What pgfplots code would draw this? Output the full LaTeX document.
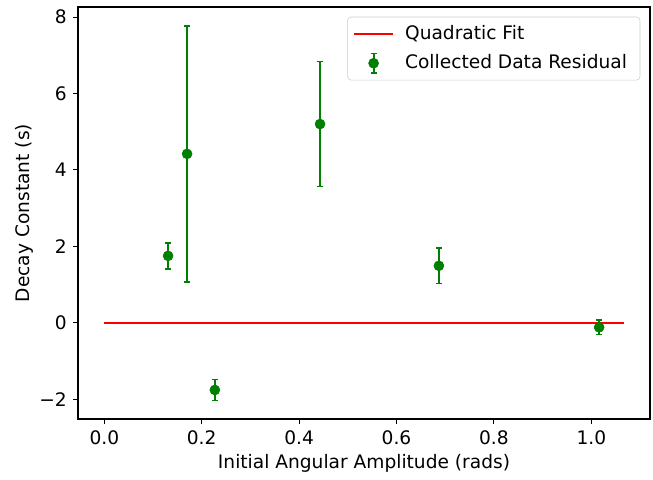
\documentclass[border=0pt]{standalone}
\usepackage{fontspec}
\setmainfont{DejaVu Sans}
\usepackage{pgfplots}
\pgfplotsset{compat=1.18}
\definecolor{mplgreen}{HTML}{008000}
\definecolor{mplred}{HTML}{FF0000}
\begin{document}
\fontsize{13.4}{16}\selectfont
\begin{tikzpicture}
\useasboundingbox (-56.16pt,-43.2pt) rectangle (414pt,301.68pt);
\begin{axis}[
  at={(0pt,0pt)}, anchor=south west,
  scale only axis, width=411.84pt, height=296.64pt,
  xmin=-0.054, xmax=1.1205, ymin=-2.52, ymax=8.264,
  axis line style={line width=0.75pt},
  tick align=outside, major tick length=3.4pt,
  tick style={black, line width=0.75pt},
  xtick={0,0.2,0.4,0.6,0.8,1.0},
  xticklabels={0.0,0.2,0.4,0.6,0.8,1.0},
  ytick={-2,0,2,4,6,8},
  yticklabels={−2,0,2,4,6,8},
  xtick pos=bottom, ytick pos=left,
  tick label style={font=\fontsize{13.4}{16}\selectfont},
  label style={font=\fontsize{13.4}{16}\selectfont},
  xlabel={Initial Angular Amplitude (rads)},
  ylabel={Decay Constant (s)},
  xlabel style={yshift=2pt},
  ylabel style={yshift=-5pt},
  legend style={at={(1,1)}, anchor=north east, xshift=-7pt, yshift=-7pt,
    draw=black!20, rounded corners=2.5pt, fill=white,
    font=\fontsize{13.4}{16}\selectfont,
    inner xsep=4pt, inner ysep=4pt, row sep=5pt,
    nodes={inner sep=2pt},
    /tikz/every odd column/.append style={column sep=6pt}},
  legend cell align=left,
]
\addplot[mplred, line width=1.4pt,
  legend image code/.code={
    \draw[mplred,line width=1.4pt] (0pt,0pt) -- (28pt,0pt);}]
  coordinates {(0,0) (1.067,0)};
\addlegendentry{Quadratic Fit}
\addplot[only marks, mark=*, mark size=3.6pt, color=mplgreen,
  mark options={fill=mplgreen, draw=mplgreen},
  legend image code/.code={
    \draw[mplgreen,line width=1.4pt] (14pt,-7pt) -- (14pt,7pt);
    \draw[mplgreen,line width=1pt] (11.8pt,-7pt) -- (16.2pt,-7pt);
    \draw[mplgreen,line width=1pt] (11.8pt,7pt) -- (16.2pt,7pt);
    \fill[mplgreen] (14pt,0pt) circle (3.6pt);
    \draw[draw=white,draw opacity=0,line width=0.1pt] (0pt,0pt) -- (28pt,0pt);},
  error bars/.cd, y dir=both, y explicit,
  error bar style={line width=1.4pt, mplgreen},
  error mark options={rotate=90, mark size=2.2pt, line width=1pt, mplgreen},
  ]
  table[x=x, y=y, y error=e] {
  x      y      e
  0.131  1.75   0.34
  0.170  4.42   3.35
  0.227  -1.76  0.28
  0.443  5.20   1.64
  0.687  1.49   0.47
  1.016  -0.12  0.19
};
\addlegendentry{Collected Data Residual\rule{3.4pt}{0pt}}
\end{axis}
\end{tikzpicture}
\end{document}
